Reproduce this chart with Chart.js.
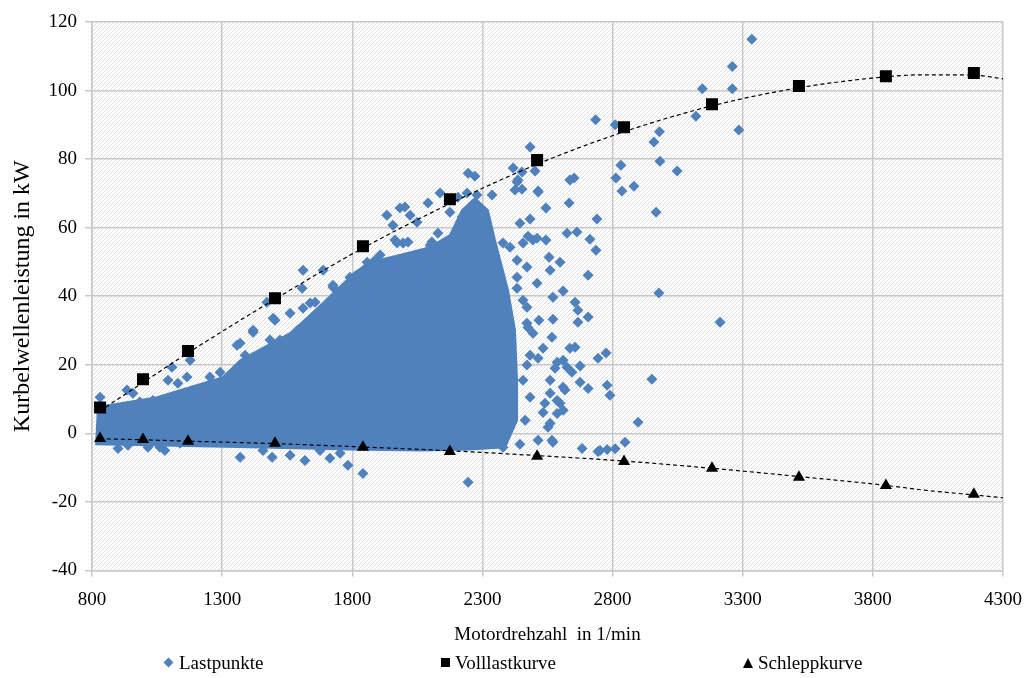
<!DOCTYPE html>
<html>
<head>
<meta charset="utf-8">
<script src="https://cdn.jsdelivr.net/npm/chart.js@4.4.1/dist/chart.umd.min.js"></script>
<style>
html, body { margin: 0; background: #fff; }
#wrap { position: relative; width: 1028px; height: 678px; }
#legend { position: absolute; left: 0; top: 651px; width: 1028px; height: 24px;
	font-family: 'Liberation Serif', 'Times New Roman', serif; font-size: 19px; color: #000; }
#legend .item { position: absolute; top: 0; white-space: nowrap; line-height: 24px; }
#legend .mark { display: inline-block; vertical-align: middle; margin-right: 5px; position: relative; top: -2px; }
#legend .rectRot { width: 7px; height: 7px; transform: rotate(45deg); margin-left: 2px; margin-right: 7px; }
#legend .rect { width: 9px; height: 9px; }
#legend .triangle { width: 0; height: 0; border-left: 5px solid transparent; border-right: 5px solid transparent; border-bottom: 10px solid #000; }
</style>
</head>
<body>
<div id="wrap">
<canvas id="chart" width="1028" height="678"></canvas>
<div id="legend"></div>
</div>
<script>
/* Data */
var xTicks = [800, 1300, 1800, 2300, 2800, 3300, 3800, 4300];
var yTicks = [-40, -20, 0, 20, 40, 60, 80, 100, 120];

// Volllast- und Schleppkurve (gemeinsame Drehzahlen)
var kurveX = [831, 996, 1169, 1503, 1841, 2175, 2510, 2844, 3182, 3516, 3850, 4188];
var volllastY = [7.5, 15.8, 24, 39.4, 54.6, 68.3, 79.7, 89.3, 96, 101.3, 104.2, 105.1];
var schleppY = [-1.5, -1.8, -2.3, -2.9, -4.1, -5.3, -6.7, -8.2, -10.2, -12.8, -15.2, -17.8];

// Trendlinien (gestrichelt)
var trendX = [830, 1000, 1170, 1500, 1840, 2175, 2510, 2845, 3180, 3515, 3850, 4000, 4190, 4300];
var volllastTrend = [6.5, 15, 23.5, 39, 54, 67, 78.5, 88, 95.5, 100.8, 104, 104.6, 104.5, 103.4];
var schleppTrend = [-1.6, -1.9, -2.3, -3.0, -4.0, -5.1, -6.5, -8.1, -10.2, -12.6, -15.2, -16.6, -18.0, -18.8];

// dichter Kern der Lastpunkte (Umriss)
var lastKern = [
	[812, -3.2], [1023, -3.5], [1407, -4.1], [1791, -4.7], [2060, -5.0], [2252, -4.7],
	[2387, -4.1], [2433, 3.8], [2433, 15.5], [2425, 30.1], [2398, 41.8], [2348, 56.4],
	[2321, 65.1], [2271, 68.6], [2222, 65.1], [2175, 57.8], [2099, 54.3], [1983, 52.0],
	[1868, 49.9], [1810, 47.0], [1688, 38.0], [1561, 29.2], [1369, 21.3], [1303, 16.4],
	[1050, 10.5], [819, 7.6]
];

// einzelne Lastpunkte ausserhalb des Kerns
var lastpunkte = [
	[3335, 115], [3260, 107], [3260, 100.5], [3145, 100.5], [3120, 92.5], [3285, 88.5],
	[2735, 91.5], [2810, 90], [2980, 88], [2959, 85], [2982, 79.4], [2832, 78.2],
	[2813, 74.5], [2836, 70.7], [2882, 72.1], [3048, 76.5], [2967, 64.5], [2978, 40.9],
	[3213, 32.4],
	[2483, 83.5], [2418, 77.4], [2502, 76.5], [2452, 76.2], [2433, 73.3], [2425, 71],
	[2452, 71.2], [2514, 70.7], [2636, 73.9], [2652, 74.5], [2633, 67.2], [2544, 65.7],
	[2740, 62.5], [2444, 61.3], [2483, 62.5], [2625, 58.4], [2663, 58.7], [2475, 57.5],
	[2510, 56.9], [2544, 56.4], [2713, 56.6], [2736, 53.4], [2556, 51.4], [2598, 49.9],
	[2560, 47.6], [2706, 46.1], [2510, 43.8], [2433, 42.3], [2610, 41.5], [2571, 39.7],
	[2656, 38.2], [2667, 35.9], [2706, 33.9], [2667, 32.4], [2517, 33], [2571, 33.3],
	[2471, 32.1], [2494, 29.2], [2567, 28], [2533, 24.8], [2483, 22.8], [2514, 21.9],
	[2636, 24.8], [2656, 25.1], [2744, 21.9], [2775, 23.4], [2610, 21.3], [2675, 19.6],
	[2579, 19], [2644, 17.8], [2675, 14.9], [2706, 13.1], [2779, 14], [2790, 11.1],
	[2951, 15.8], [2617, 12.6], [2560, 11.7], [2540, 8.8], [2598, 8.8], [2587, 5.8],
	[2533, 6.1], [2552, 1.8], [2464, 3.8], [2898, 3.2], [2848, -2.6], [2683, -4.4],
	[2744, -5.3], [2779, -4.7], [2514, -2], [2567, -2], [2444, -3.2], [2379, -4.1],
	[2137, 70.1], [2091, 67.2], [2206, 68.9], [2241, 70.1], [2279, 69.5], [2337, 69.5],
	[1933, 63.6], [1983, 65.7], [2002, 66], [2022, 63.6], [2049, 61.6], [1956, 60.7],
	[2175, 64.5], [2222, 63.1], [2129, 58.4], [2106, 55.8], [1995, 55.5], [1964, 56.4],
	[2014, 55.8], [1895, 50.5], [1956, 48.5], [2033, 48.2], [2060, 51.1], [2118, 53.4],
	[2110, 48.5], [2099, 54.9], [2060, 44.7], [2125, 41.8], [2137, 38.8],
	[2245, 75.9], [2271, 75], [2436, 73.9], [2514, 70.4],
	[2379, 55.5], [2406, 54.3], [2456, 55.5], [2494, 56.4], [2433, 50.5], [2471, 48.5],
	[2433, 45.5], [2456, 38.8], [2471, 36.8], [2475, 30.9], [2587, 20.7], [2625, 19.3],
	[2471, 19.9], [2456, 15.5], [2560, 15.5], [2610, 13.4], [2483, 10.5], [2587, 9.6],
	[2610, 6.7], [2560, 2.9],
	[831, 10.5], [934, 12.6], [957, 11.7], [984, 9.1], [1034, 9.6], [1107, 19.3],
	[1092, 15.5], [1165, 16.4], [1177, 21.3], [1130, 14.6], [1253, 16.4], [1292, 17.8],
	[1357, 25.7], [1388, 22.8], [1419, 30.1], [1484, 27.2], [1503, 33], [1561, 35],
	[1611, 47.6], [1688, 47.6], [1607, 42.3], [1638, 38], [1472, 38.2], [1726, 42.6],
	[1753, 40.9], [1803, 44.7], [1791, 36.5], [1857, 48.5], [1887, 50.5], [1907, 43.8],
	[1841, 32.4],
	[1369, 26.3], [1419, 29.5], [1496, 33.6], [1611, 36.5], [1657, 38.2], [1726, 43.2],
	[1791, 45.5], [1857, 49.9], [1907, 52], [1972, 55.5], [2022, 48.5], [1880, 39.7],
	[1818, 35], [1753, 30], [1665, 33], [1703, 28], [1588, 30], [1522, 27.2],
	[1457, 22.2], [1407, 20.4],
	[900, -4.4], [938, -3.5], [1015, -4.1], [1080, -5], [1061, -4.1], [1138, -2.9],
	[1369, -7], [1457, -5], [1492, -7], [1561, -6.4], [1618, -7.9], [1714, -7.3],
	[1753, -5.8], [1783, -9.3], [1841, -11.7], [1676, -5], [2245, -14.3], [2571, -2.6],
	[2752, -5], [2810, -4.5]
];

var BLAU = '#4F81BD';
var FONT = "'Liberation Serif', 'Times New Roman', serif";

var toPoints = function(xs, ys){
	return xs.map(function(x, i){ return { x: x, y: ys[i] }; });
};
var pairs = function(list){
	return list.map(function(p){ return { x: p[0], y: p[1] }; });
};

/* diagonal hatch for the plot area */
var makeHatch = function(){
	var c = document.createElement('canvas');
	c.width = 4; c.height = 4;
	var g = c.getContext('2d');
	g.fillStyle = '#ffffff';
	g.fillRect(0, 0, 4, 4);
	g.strokeStyle = '#e0e0e0';
	g.lineWidth = 1;
	g.beginPath();
	g.moveTo(0, 4); g.lineTo(4, 0);
	g.moveTo(-1, 1); g.lineTo(1, -1);
	g.moveTo(3, 5); g.lineTo(5, 3);
	g.stroke();
	return g.createPattern(c, 'repeat');
};

var hatchPlugin = {
	id: 'hatch',
	beforeDraw: function(chart){
		var a = chart.chartArea;
		var ctx = chart.ctx;
		ctx.save();
		ctx.fillStyle = makeHatch();
		ctx.fillRect(a.left, a.top, a.right - a.left, a.bottom - a.top);
		ctx.restore();
	}
};

var chartData = {
	datasets: [
		{
			label: 'Lastpunkte',
			data: pairs(lastpunkte),
			pointStyle: 'rectRot',
			pointRadius: 5.5,
			backgroundColor: BLAU,
			borderColor: BLAU,
			borderWidth: 0,
			order: 3
		},
		{
			label: 'Volllastkurve',
			data: toPoints(kurveX, volllastY),
			pointStyle: 'rect',
			pointRadius: 8.5,
			backgroundColor: '#000',
			borderColor: '#000',
			borderWidth: 0,
			order: 1
		},
		{
			label: 'Schleppkurve',
			data: toPoints(kurveX, schleppY),
			pointStyle: 'triangle',
			pointRadius: 7,
			backgroundColor: '#000',
			borderColor: '#000',
			borderWidth: 0,
			order: 1
		},
		{
			label: 'kern',
			data: pairs(lastKern),
			showLine: true,
			fill: 'shape',
			pointRadius: 0,
			backgroundColor: BLAU,
			borderColor: BLAU,
			borderWidth: 2,
			order: 4
		},
		{
			label: 'trendVoll',
			data: toPoints(trendX, volllastTrend),
			showLine: true,
			cubicInterpolationMode: 'monotone',
			pointRadius: 0,
			borderColor: '#000',
			borderWidth: 1.2,
			borderDash: [4, 3],
			order: 0
		},
		{
			label: 'trendSchlepp',
			data: toPoints(trendX, schleppTrend),
			showLine: true,
			cubicInterpolationMode: 'monotone',
			pointRadius: 0,
			borderColor: '#000',
			borderWidth: 1.2,
			borderDash: [4, 3],
			order: 0
		}
	]
};

var plainTick = function(v){ return String(v); };

var options = {
	responsive: false,
	animation: false,
	layout: { padding: { top: 22, right: 25, left: 8, bottom: 32 } },
	plugins: {
		tooltip: { enabled: false },
		legend: { display: false }
	},
	scales: {
		x: {
			type: 'linear',
			min: xTicks[0],
			max: xTicks[xTicks.length - 1],
			ticks: { stepSize: 500, color: '#000', padding: 12, callback: plainTick, font: { family: FONT, size: 19 } },
			grid: { color: '#c8c8c8', lineWidth: 1.5, tickLength: 6 },
			border: { color: '#c8c8c8', width: 1.5 },
			title: { display: true, text: 'Motordrehzahl  in 1/min', color: '#000', padding: { top: 0, bottom: 0 }, font: { family: FONT, size: 19 } },
			afterFit: function(scale){ scale.paddingRight = 0; scale.paddingLeft = 0; }
		},
		y: {
			min: yTicks[0],
			max: yTicks[yTicks.length - 1],
			ticks: { stepSize: 20, color: '#000', padding: 8, callback: plainTick, font: { family: FONT, size: 19 } },
			grid: { color: '#c8c8c8', lineWidth: 1.5, tickLength: 7 },
			border: { color: '#c8c8c8', width: 1.5 },
			title: { display: true, text: 'Kurbelwellenleistung in kW', color: '#000', padding: { top: 0, bottom: 6 }, font: { family: FONT, size: 24 } },
			afterFit: function(scale){ scale.width = 84; }
		}
	}
};

var chart = new Chart(document.getElementById('chart'), {
	type: 'scatter',
	data: chartData,
	options: options,
	plugins: [hatchPlugin]
});

/* legend drawn as html, items at fixed places like the original */
var legendItems = [
	{ label: chartData.datasets[0].label, style: 'rectRot', color: BLAU, left: 163 },
	{ label: chartData.datasets[1].label, style: 'rect', color: '#000', left: 441 },
	{ label: chartData.datasets[2].label, style: 'triangle', color: '#000', left: 743 }
];
var $legend = document.getElementById('legend');
legendItems.forEach(function(it){
	var item = document.createElement('span');
	item.className = 'item';
	item.style.left = it.left + 'px';
	var mark = document.createElement('span');
	mark.className = 'mark ' + it.style;
	if (it.style !== 'triangle') { mark.style.background = it.color; }
	item.appendChild(mark);
	item.appendChild(document.createTextNode(it.label));
	$legend.appendChild(item);
});
</script>
</body>
</html>
